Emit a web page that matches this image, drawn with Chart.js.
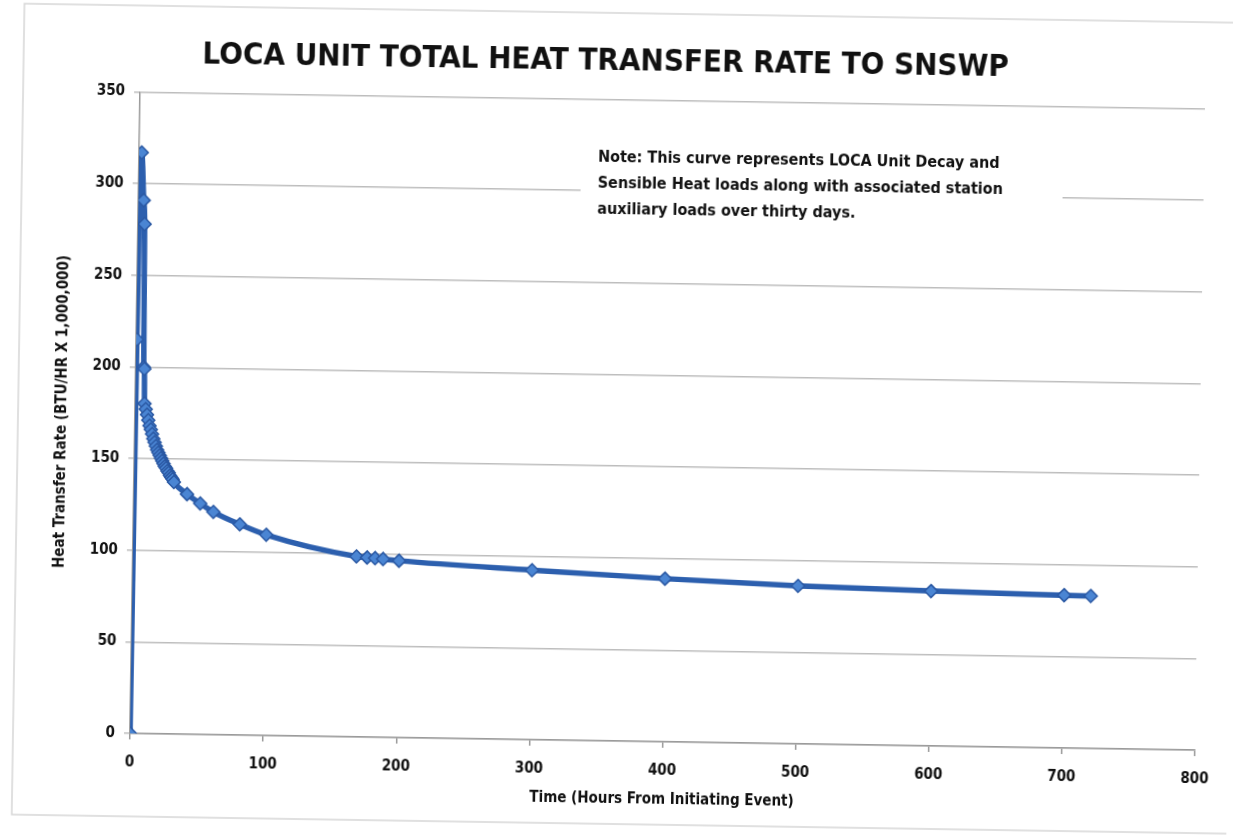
<!DOCTYPE html>
<html>
<head>
<meta charset="utf-8">
<script src="https://cdn.jsdelivr.net/npm/chart.js@4.4.1/dist/chart.umd.min.js"></script>
<style>
    html, body { margin: 0; padding: 0; background: #fff; overflow: hidden; }
    #wrap { position: absolute; left: 0; top: 0; width: 1233px; height: 840px; transform: rotate(0.9deg); transform-origin: 616px 420px; }
</style>
</head>
<body>
<div id="wrap"><canvas id="heatChart" width="1233" height="840"></canvas></div>
<script>
// Time after initiating event (hours) and heat transfer rate (BTU/HR x 1,000,000)
const hours = [0, 0.5, 2, 4, 5, 6, 6.5, 7, 8, 9, 10, 11, 12, 13, 14, 15, 16, 17, 18, 19, 20,
    21, 22, 23, 24, 25, 26, 27, 28, 29, 30, 40, 50, 60, 80, 100,
    168, 176, 182, 188, 200, 300, 400, 500, 600, 700, 720];
const heatRate = [0, 215, 317, 291, 278, 200, 199, 180, 177, 174, 171, 168, 166, 163.5, 161, 159, 157, 155, 153.5, 152, 150.5,
    149, 147.5, 146, 145, 143.5, 142.5, 141, 140, 139, 137.5, 131, 126, 121.5, 115, 109.5,
    98.5, 98, 97.7, 97.3, 96.5, 92.5, 89, 86.2, 84.5, 83.4, 83.2];

const xTicks = [0, 100, 200, 300, 400, 500, 600, 700, 800];
const yTicks = [0, 50, 100, 150, 200, 250, 300, 350];

const noteLines = [
    'Note: This curve represents LOCA Unit Decay and',
    'Sensible Heat loads along with associated station',
    'auxiliary loads over thirty days.'
];

const FONT = "'DejaVu Sans Condensed', 'Liberation Sans Narrow', sans-serif";

// white note box sitting over the gridlines
const notePlugin = {
    id: 'noteBox',
    beforeDatasetsDraw(chart) {
        const ctx = chart.ctx;
        ctx.save();
        ctx.fillStyle = '#ffffff';
        ctx.fillRect(577, 139, 482, 126);
        ctx.fillStyle = '#111';
        ctx.font = 'bold 16px ' + FONT;
        ctx.textBaseline = 'middle';
        noteLines.forEach((line, i) => {
            ctx.fillText(line, 594, 158 + i * 26);
        });
        ctx.restore();
    },
    afterDraw(chart) {
        // faint paper frame of the scan
        const ctx = chart.ctx;
        ctx.save();
        ctx.strokeStyle = '#d6d6d6';
        ctx.lineWidth = 1.5;
        ctx.strokeRect(18, 13, 1240, 811);
        ctx.restore();
    }
};

const points = hours.map((h, i) => ({ x: h, y: heatRate[i] }));

new Chart(document.getElementById('heatChart'), {
    type: 'scatter',
    data: {
        datasets: [{
            label: 'Heat Transfer Rate',
            data: points,
            showLine: true,
            borderColor: '#2c5fae',
            borderWidth: 5.5,
            cubicInterpolationMode: 'monotone',
            pointStyle: 'rectRot',
            pointRadius: 6.5,
            pointBackgroundColor: '#4a85d3',
            pointBorderColor: '#2a58a3',
            pointBorderWidth: 1.5
        }]
    },
    options: {
        responsive: false,
        animation: false,
        layout: { padding: { top: 20, left: 0, right: 33, bottom: 0 } },
        plugins: {
            legend: { display: false },
            tooltip: { enabled: false },
            title: {
                display: true,
                text: 'LOCA UNIT TOTAL HEAT TRANSFER RATE TO SNSWP',
                color: '#111',
                font: { family: FONT, size: 31, weight: 'bold' },
                padding: { top: 23.4, bottom: 18.9 }
            }
        },
        scales: {
            x: {
                type: 'linear',
                min: 0,
                max: 800,
                afterBuildTicks: s => { s.ticks = xTicks.map(v => ({ value: v })); },
                afterFit: s => { s.height = 99; },
                ticks: { color: '#111', font: { family: FONT, size: 15, weight: 'bold' }, padding: 14 },
                grid: { drawOnChartArea: false, tickLength: 6, color: '#9a9a9a', lineWidth: 1.5 },
                border: { color: '#9a9a9a', width: 1.5 },
                title: {
                    display: true,
                    text: 'Time (Hours From Initiating Event)',
                    color: '#111',
                    font: { family: FONT, size: 15, weight: 'bold' },
                    padding: { top: 4, bottom: 32 }
                }
            },
            y: {
                min: 0,
                max: 350,
                afterBuildTicks: s => { s.ticks = yTicks.map(v => ({ value: v })); },
                afterFit: s => { s.width = 135; },
                ticks: { color: '#111', font: { family: FONT, size: 15, weight: 'bold' }, padding: 9 },
                grid: { color: '#bdbdbd', lineWidth: 1.5, tickLength: 6 },
                border: { color: '#9a9a9a', width: 1.5 },
                title: {
                    display: true,
                    text: 'Heat Transfer Rate (BTU/HR X 1,000,000)',
                    color: '#111',
                    font: { family: FONT, size: 15, weight: 'bold' },
                    padding: { top: 53, bottom: 4 }
                }
            }
        }
    },
    plugins: [notePlugin]
});
</script>
</body>
</html>
